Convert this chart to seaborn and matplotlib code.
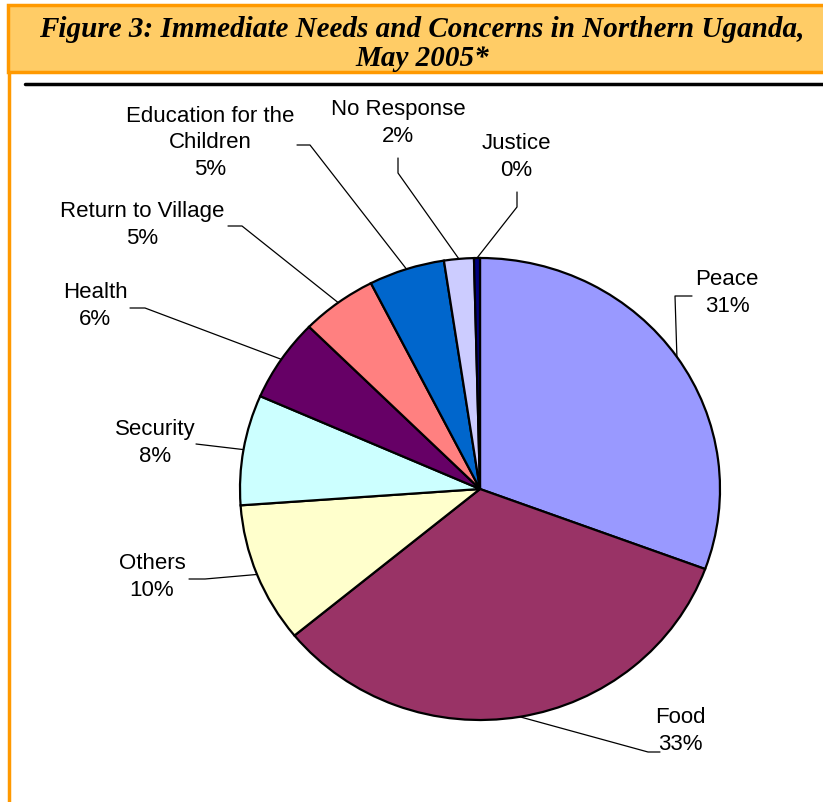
import numpy as np
import matplotlib
matplotlib.use("Agg")
import matplotlib.pyplot as plt
import seaborn as sns
from matplotlib.patches import Rectangle
from matplotlib.lines import Line2D

# data (clockwise from 12 o'clock)
categories = ["Peace", "Food", "Others", "Security", "Health",
              "Return to Village", "Education for the\nChildren",
              "No Response", "Justice"]
shares = [30.6, 33.4, 9.8, 7.7, 5.8, 5.1, 5.1, 2.0, 0.4]
colors = ["#9999FF", "#993366", "#FFFFCC", "#CCFFFF", "#660066",
          "#FF8080", "#0066CC", "#CCCCFF", "#000080"]

# label block centres and leader stubs in pixel space (x right, y down)
label_xy = [(727, 293), (680, 731), (152, 577), (155, 443), (95, 306),
            (142, 225), (210, 143), (398, 123), (516, 157)]
leader_stub = [[(692, 296), (675, 296)],
               [(660, 752), (648, 752)],
               [(189, 579), (205, 579)],
               [(196, 444)],
               [(130, 308), (145, 308)],
               [(228, 226), (242, 226)],
               [(297, 145), (310, 145)],
               [(398, 158), (398, 173)],
               [(517, 192), (517, 207)]]

W, H = 823, 802
CX, CY, RX, RY = 480, 489, 240, 231

sns.set_theme(style="white")
plt.rcParams["font.family"] = ["Liberation Sans", "DejaVu Sans"]

fig = plt.figure(figsize=(W / 100, H / 100), dpi=100)
fig.patch.set_facecolor("white")

ax = fig.add_axes([0, 0, 1, 1])


def to_data(px, py):
    return (px - CX) / RX, (CY - py) / RY


wedges, _ = ax.pie(shares, colors=colors, startangle=90, counterclock=False,
                   wedgeprops=dict(edgecolor="black", linewidth=1.6))
ax.set_xlim(-CX / RX, (W - CX) / RX)
ax.set_ylim(-(H - CY) / RY, CY / RY)
ax.set_aspect("auto")
ax.axis("off")

for w, name, val, (lx, ly), stub in zip(wedges, categories, shares,
                                        label_xy, leader_stub):
    mid = np.deg2rad((w.theta1 + w.theta2) / 2)
    pts = [to_data(*p) for p in stub] + [(np.cos(mid), np.sin(mid))]
    xs, ys = zip(*pts)
    ax.add_line(Line2D(xs, ys, color="black", linewidth=0.9))
    tx, ty = to_data(lx, ly)
    ax.text(tx, ty, f"{name}\n{round(val)}%", ha="center", va="center",
            fontsize=16, linespacing=1.35, color="black")

# title banner
fig.patches.append(Rectangle((8 / W, 1 - 72 / H), 1, 67 / H,
                             transform=fig.transFigure, facecolor="#FFCC66",
                             edgecolor="#FF9900", linewidth=2.5, zorder=0))
fig.add_artist(Line2D([9 / W, 9 / W], [0, 1 - 72 / H], color="#FF9900",
                      linewidth=2.5, transform=fig.transFigure))
fig.add_artist(Line2D([25 / W, 1], [1 - 84 / H, 1 - 84 / H], color="black",
                      linewidth=2.5, transform=fig.transFigure))
fig.text(422 / W, 1 - 44 / H,
         "Figure 3: Immediate Needs and Concerns in Northern Uganda,\nMay 2005*",
         ha="center", va="center", fontsize=21, fontweight="bold",
         fontstyle="italic", family=["Liberation Serif", "DejaVu Serif"],
         linespacing=1.06, color="black")

fig.savefig("out.png", dpi=100)
